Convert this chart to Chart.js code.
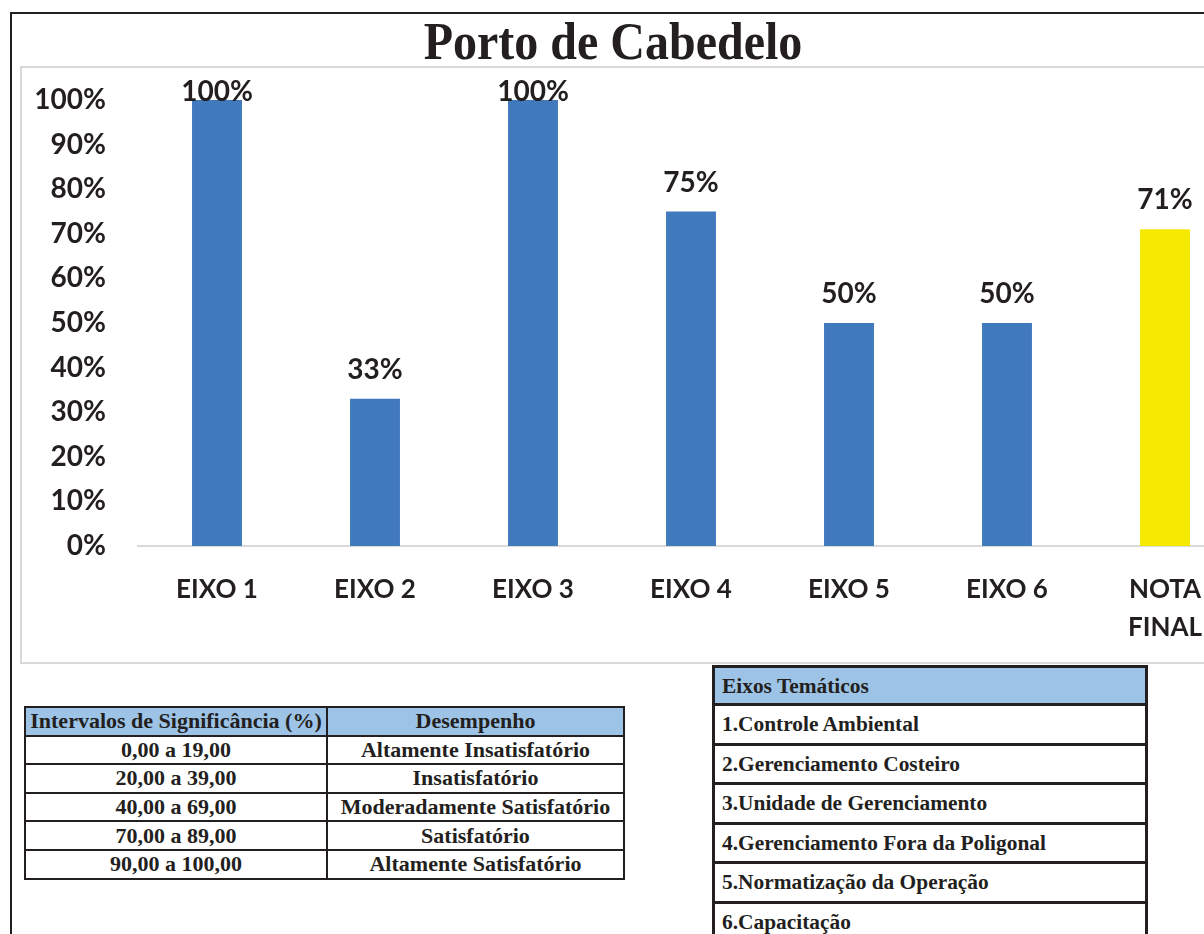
<!DOCTYPE html>
<html>
<head>
<meta charset="utf-8">
<script src="https://cdn.jsdelivr.net/npm/chart.js@4.4.1/dist/chart.umd.min.js"></script>
<style>
  html, body { margin: 0; padding: 0; background: #fff; }
  body { width: 1204px; height: 934px; overflow: hidden; position: relative; }
  #frame {
    position: absolute; left: 10px; top: 12px; width: 1300px; height: 1000px;
    border-left: 2px solid #231f20; border-top: 2px solid #231f20;
  }
  #title {
    position: absolute; left: 0; top: 14px; width: 1226px; text-align: center;
    font-family: "Liberation Serif", "Times New Roman", serif; font-weight: bold; font-size: 48px;
    color: #231f20; line-height: 56px; transform: scaleY(1.08);
  }
  #chartBox {
    position: absolute; left: 20px; top: 66px; width: 1240px; height: 594px;
    border: 2px solid #d9d9d9;
  }
  #chartBox canvas { display: block; }
  table { border-collapse: collapse; position: absolute;
    font-family: "Liberation Serif", "Times New Roman", serif;
    font-weight: bold; color: #231f20; }
  #escala { left: 24px; top: 706px; width: 601px; font-size: 22px; line-height: 22px; }
  #escala td, #escala th { border: 2px solid #231f20; text-align: center; padding: 0; height: 26.6px; }
  #escala th { background: #9dc3e6; font-weight: bold; }
  #eixos { left: 712px; top: 665px; width: 436px; font-size: 21.4px; line-height: 24px; }
  #eixos td, #eixos th { border: 3px solid #231f20; text-align: left; padding: 0 0 0 7px; height: 36.5px; }
  #eixos th { background: #9dc3e6; font-weight: bold; height: 35px; }
</style>
</head>
<body>
<div id="frame"></div>
<div id="title">Porto de Cabedelo</div>
<div id="chartBox"><canvas id="portoChart" width="1240" height="594"></canvas></div>
<table id="escala"></table>
<table id="eixos"></table>
<script>
// Categories and values
const categorias = ['EIXO 1', 'EIXO 2', 'EIXO 3', 'EIXO 4', 'EIXO 5', 'EIXO 6', ['NOTA', 'FINAL']];
const valores = [100, 33, 100, 75, 50, 50, 71];
const coresBarras = ['#4179bd', '#4179bd', '#4179bd', '#4179bd', '#4179bd', '#4179bd', '#f5e900'];
const ticksY = [0, 10, 20, 30, 40, 50, 60, 70, 80, 90, 100];

const intervalos = ['0,00 a 19,00', '20,00 a 39,00', '40,00 a 69,00', '70,00 a 89,00', '90,00 a 100,00'];
const desempenho = ['Altamente Insatisfatório', 'Insatisfatório', 'Moderadamente Satisfatório', 'Satisfatório', 'Altamente Satisfatório'];
const eixosTematicos = ['1.Controle Ambiental', '2.Gerenciamento Costeiro', '3.Unidade de Gerenciamento',
    '4.Gerenciamento Fora da Poligonal', '5.Normatização da Operação', '6.Capacitação'];

// Tables below the chart
function buildTables() {
    const escala = document.getElementById('escala');
    let html = '<tr><th style="width:300px">Intervalos de Significância (%)</th><th>Desempenho</th></tr>';
    intervalos.forEach(function(iv, i) {
        html += '<tr><td>' + iv + '</td><td>' + desempenho[i] + '</td></tr>';
    });
    escala.innerHTML = html;

    const eixos = document.getElementById('eixos');
    let h2 = '<tr><th>Eixos Temáticos</th></tr>';
    eixosTematicos.forEach(function(e) {
        h2 += '<tr><td>' + e + '</td></tr>';
    });
    eixos.innerHTML = h2;
}

// Percent labels above each bar
const rotulosPlugin = {
    id: 'rotulos',
    afterDatasetsDraw: function(chart) {
        const ctx = chart.ctx;
        const meta = chart.getDatasetMeta(0);
        ctx.save();
        ctx.font = 'bold 28px Lato';
        ctx.fillStyle = '#231f20';
        ctx.textAlign = 'center';
        ctx.textBaseline = 'middle';
        meta.data.forEach(function(bar, i) {
            const y = Math.max(bar.y - 29, chart.chartArea.top - 8);
            ctx.fillText(valores[i] + '%', bar.x, y);
        });
        ctx.restore();
    }
};

function initChart() {
    const ctx = document.getElementById('portoChart');
    new Chart(ctx, {
        type: 'bar',
        data: {
            labels: categorias,
            datasets: [{
                data: valores,
                backgroundColor: coresBarras,
                borderWidth: 0,
                barPercentage: 1,
                categoryPercentage: 0.316
            }]
        },
        options: {
            responsive: false,
            animation: false,
            layout: { padding: { top: 32, right: 18, left: 0, bottom: 0 } },
            plugins: {
                legend: { display: false },
                tooltip: { enabled: false },
                title: { display: false }
            },
            scales: {
                x: {
                    grid: { display: false },
                    border: { display: true, color: '#d9d9d9', width: 2 },
                    ticks: {
                        color: '#231f20',
                        font: { family: 'Lato', size: 26, weight: 'bold', lineHeight: 1.45 },
                        padding: 17,
                        maxRotation: 0,
                        autoSkip: false
                    },
                    afterFit: function(axis) { axis.height = 116; }
                },
                y: {
                    min: 0,
                    max: 100,
                    afterBuildTicks: function(axis) {
                        axis.ticks = ticksY.map(function(v) { return { value: v }; });
                    },
                    grid: { display: false },
                    border: { display: false },
                    ticks: {
                        color: '#231f20',
                        font: { family: 'Lato', size: 28, weight: 'bold' },
                        padding: 24,
                        callback: function(v) { return v + '%'; }
                    },
                    afterFit: function(axis) {
                        axis.width = 116;
                        axis.paddingTop = 0;
                        axis.paddingBottom = 0;
                    }
                }
            }
        },
        plugins: [rotulosPlugin]
    });
}

document.addEventListener('DOMContentLoaded', function() {
    buildTables();
    if (typeof Chart === 'undefined') {
        console.error('Chart.js not loaded');
        return;
    }
    initChart();
});
</script>
</body>
</html>
